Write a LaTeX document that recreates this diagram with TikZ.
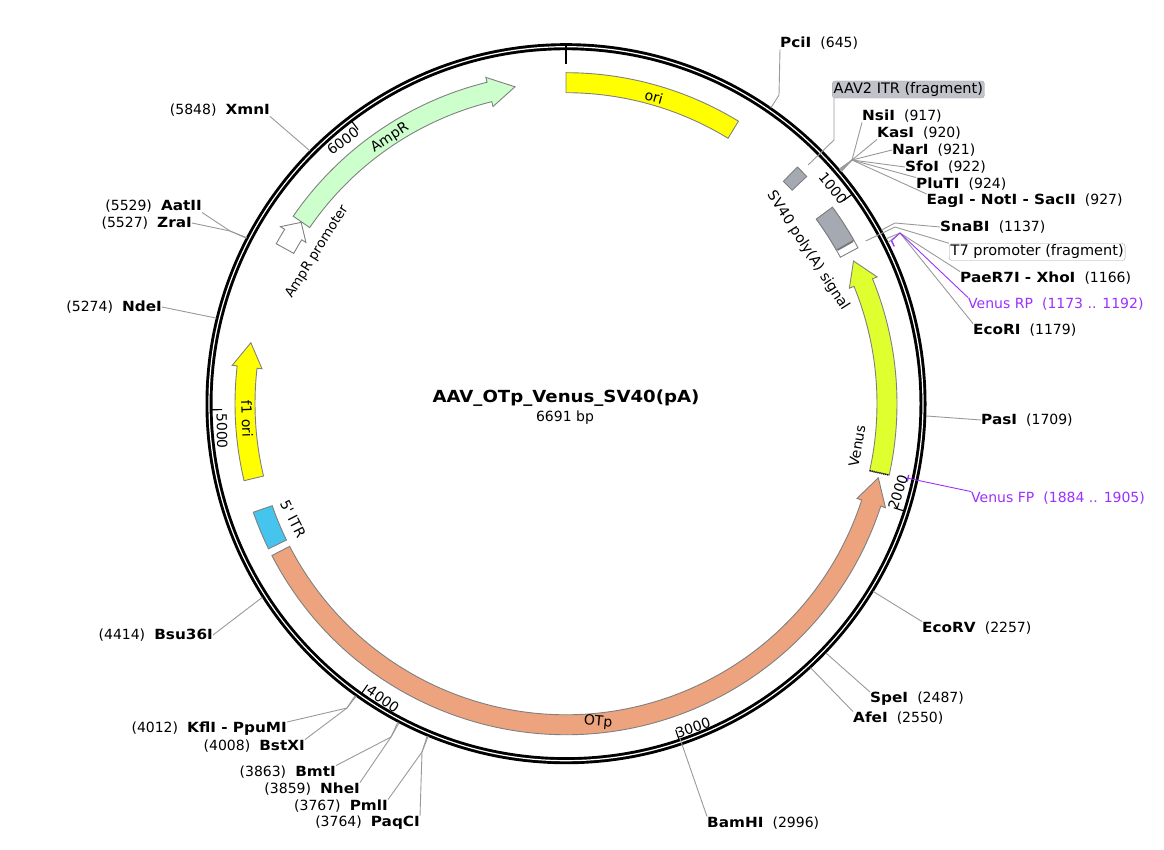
\documentclass[tikz,border=0pt]{standalone}
\usepackage{fontspec}
\setmainfont{DejaVu Sans}[BoldFeatures={FakeStretch=1.09}]
\newcommand{\siteR}[2]{\textbf{#1}\hspace{0.65em}(#2)}
\newcommand{\siteL}[2]{(#2)\hspace{0.65em}\textbf{#1}}
\newcommand{\featarrow}[4]{\draw[feature, #1] (90-#2:331) arc[start angle=90-#2, end angle=90-#3, radius=331] -- (90-#3:336) -- (90-#4:321) -- (90-#3:306) -- (90-#3:311) arc[start angle=90-#3, end angle=90-#2, radius=311] -- cycle;}
\newcommand{\featbox}[3]{\draw[feature, #1] (90-#2:331) arc[start angle=90-#2, end angle=90-#3, radius=331] -- (90-#3:311) arc[start angle=90-#3, end angle=90-#2, radius=311] -- cycle;}
\definecolor{oricolor}{HTML}{FFFF00}
\definecolor{otpcolor}{HTML}{EDA37E}
\definecolor{ampcolor}{HTML}{CCFFCC}
\definecolor{venuscolor}{HTML}{E0FF2E}
\definecolor{itrcolor}{HTML}{45C4EE}
\definecolor{polycolor}{HTML}{A5A9B2}
\definecolor{primercolor}{HTML}{9B30FF}
\begin{document}
\begin{tikzpicture}[
  x=1pt, y=1pt,
  font=\fontsize{14}{16}\selectfont,
  feature/.style={draw=black!50, line width=0.9pt, line join=miter},
  leader/.style={draw=black!40, line width=0.9pt},
  primer/.style={draw=primercolor, line width=0.9pt},
  tickmark/.style={draw=black, line width=1.1pt},
  right site/.style={anchor=west, inner sep=0pt, yshift=-1pt},
  left site/.style={anchor=east, inner sep=0pt, yshift=-1pt},
  primer site/.style={right site, text=primercolor},
  tag/.style={draw=black!35, rounded corners=3pt, inner sep=1.5pt, anchor=west, yshift=-0.5pt, font=\fontsize{14.5}{16}\selectfont},
  partlabel/.style={inner sep=0pt, yshift=-1pt}
]
\useasboundingbox (0,-850) rectangle (1164,0);
\begin{scope}[shift={(566,-403.7)}]
\draw[black, line width=7pt] (0,0) circle[radius=357];
\draw[white, line width=1.2pt] (0,0) circle[radius=357];
\draw[black, line width=2.5pt] (90:360) -- (90:340);
\foreach \k in {1000,2000,3000,4000,5000,6000}
  \draw[tickmark] (90-\k*0.053804:355) -- (90-\k*0.053804:344);
\foreach \nm/\pos in {pci/645, nsi/917, kas/920, nar/921, sfo/922, plu/924, eag/927, sna/1137, pae/1166, eco/1179, pas/1709, ecv/2257, spe/2487, afe/2550, bam/2996, kfl/4012, bst/4008, bmt/3863, nhe/3859, pml/3767, paq/3764, bsu/4414, nde/5274, zra/5527, aat/5529, xmn/5848}
  \coordinate (\nm pt) at (90-\pos*0.053804:360);
\coordinate (bampt) at (90-161.2:353);
\coordinate (t7pt) at (90-61.5:341);
\coordinate (itrpt) at (90-45.4:340);
\coordinate (rppt) at (90-63.4:364);
\coordinate (fppt) at (90-102.3:350);
\featbox{fill=polycolor}{44.35}{46.65}
\featbox{fill=white}{53.6}{61.9}
\featbox{fill=polycolor}{53.6}{60.4}
\draw[polycolor!70!black, line width=1.6pt] (90-60.5:312) -- (90-60.5:330);
\featarrow{fill=oricolor}{256.55}{276.55}{280.95}
\featarrow{fill=ampcolor}{304.5}{346.2}{350.85}
\featarrow{fill=white}{298.9}{301.8}{304.4}
\featarrow{fill=venuscolor}{102.45}{67.83}{63.6}
\featarrow{fill=otpcolor}{242.7}{108.04}{103.35}
\featbox{fill=itrcolor}{244}{250.86}
\featbox{fill=oricolor}{0}{31.4}
\draw[black, line width=1.6pt, dash pattern=on 1pt off 1pt] (90-102.45:311) -- (90-102.45:331);
\draw[primer, line width=1.4pt] (90-101.75:350) arc[start angle=90-101.75, end angle=90-102.85, radius=350];
\draw[primer, line width=1.4pt] (90-63.4:364) arc[start angle=90-63.4, end angle=90-64.4, radius=364];
\end{scope}
\node[partlabel, font=\fontsize{16.65}{19}\selectfont\bfseries] (title) at (566,-397) {AAV\_OTp\_Venus\_SV40(pA)};
\node[partlabel] (size) at (565,-417) {6691 bp};
\node[partlabel, rotate=-15.4] (orilabel) at (654,-96) {ori};
\node[partlabel, rotate=33] (amprlabel) at (390,-137) {AmpR};
\node[partlabel, rotate=58, font=\fontsize{13.4}{16}\selectfont] (promlabel) at (317,-251) {AmpR promoter};
\node[partlabel, rotate=-88] (f1label) at (247,-418) {f1 ori};
\node[partlabel, rotate=-63] (itr5label) at (293,-518) {5\textquotesingle{} ITR};
\node[partlabel, rotate=-5] (otplabel) at (598,-721) {OTp};
\node[partlabel, rotate=80] (venuslabel) at (857,-445) {Venus};
\node[partlabel, rotate=-57, font=\fontsize{14.2}{16}\selectfont] (polylabel) at (808,-250) {SV40 poly(A) signal};
\node[partlabel, rotate=-51] (num1000) at (833,-187) {1000};
\node[partlabel, rotate=72.4] (num2000) at (898,-491) {2000};
\node[partlabel, rotate=18.6] (num3000) at (693,-727) {3000};
\node[partlabel, rotate=-35] (num4000) at (383,-698) {4000};
\node[partlabel, rotate=-89] (num5000) at (222,-430) {5000};
\node[partlabel, rotate=37.2] (num6000) at (343,-140) {6000};
\node[right site] (pci) at (780,-42) {\siteR{PciI}{645}};
\node[right site] (nsi) at (862,-115) {\siteR{NsiI}{917}};
\node[right site] (kas) at (877,-132) {\siteR{KasI}{920}};
\node[right site] (nar) at (892,-149) {\siteR{NarI}{921}};
\node[right site] (sfo) at (905,-166) {\siteR{SfoI}{922}};
\node[right site] (plu) at (916,-183) {\siteR{PluTI}{924}};
\node[right site] (eag) at (926.5,-200) {\siteR{EagI - NotI - SacII}{927}};
\node[right site] (sna) at (940,-226) {\siteR{SnaBI}{1137}};
\node[right site] (pae) at (960,-277) {\siteR{PaeR7I - XhoI}{1166}};
\node[right site] (eco) at (973,-329) {\siteR{EcoRI}{1179}};
\node[right site] (pas) at (981,-419) {\siteR{PasI}{1709}};
\node[right site] (ecv) at (922,-627) {\siteR{EcoRV}{2257}};
\node[right site] (spe) at (870,-698) {\siteR{SpeI}{2487}};
\node[right site] (afe) at (853,-717) {\siteR{AfeI}{2550}};
\node[right site] (bam) at (707,-822) {\siteR{BamHI}{2996}};
\node[primer site] (rp) at (968,-303) {Venus RP\hspace{0.65em}(1173 .. 1192)};
\node[primer site] (fp) at (971,-497) {Venus FP\hspace{0.65em}(1884 .. 1905)};
\node[tag, fill=polycolor!70] (itrbox) at (832,-89) {AAV2 ITR (fragment)};
\node[tag, fill=white] (t7box) at (949,-251.5) {T7 promoter (fragment)};
\node[left site] (xmn) at (270,-109) {\siteL{XmnI}{5848}};
\node[left site] (aat) at (202,-205) {\siteL{AatII}{5529}};
\node[left site] (zra) at (192,-222) {\siteL{ZraI}{5527}};
\node[left site] (nde) at (162,-306) {\siteL{NdeI}{5274}};
\node[left site] (bsu) at (213,-634) {\siteL{Bsu36I}{4414}};
\node[left site] (kfl) at (287,-728) {\siteL{KflI - PpuMI}{4012}};
\node[left site] (bst) at (305,-745) {\siteL{BstXI}{4008}};
\node[left site] (bmt) at (336,-771) {\siteL{BmtI}{3863}};
\node[left site] (nhe) at (360,-788) {\siteL{NheI}{3859}};
\node[left site] (pml) at (388,-805) {\siteL{PmlI}{3767}};
\node[left site] (paq) at (420,-822) {\siteL{PaqCI}{3764}};
\draw[leader] (pcipt) -- (779,-95) -- (pci.south west);
\draw[leader] (itrpt) -- (834,-140) -- ([xshift=2pt]itrbox.south west);
\draw[leader] (nsipt) -- (852,-160) -- (nsi.south west);
\draw[leader] (kaspt) -- (852,-160) -- (kas.south west);
\draw[leader] (narpt) -- (852,-160) -- (nar.west);
\draw[leader] (sfopt) -- (852,-160) -- (sfo.west);
\draw[leader] (plupt) -- (852,-160) -- (plu.north west);
\draw[leader] (eagpt) -- (852,-160) -- (eag.north west);
\draw[leader] (snapt) -- (895,-223) -- (sna.west);
\draw[leader] (t7pt) -- (895,-227) -- (t7box.north west);
\draw[leader] (paept) -- (900,-233) -- (pae.north west);
\draw[leader] (ecopt) -- (900,-233) -- (eco.north west);
\draw[primer] (rppt) -- (900,-233) -- (rp.north west);
\draw[leader] (paspt) -- (pas.west);
\draw[primer] (fppt) -- (fp.north west);
\draw[leader] (ecvpt) -- (ecv.north west);
\draw[leader] (spept) -- (spe.north west);
\draw[leader] (afept) -- (afe.north west);
\draw[leader] (bampt) -- (bam.north west);
\draw[leader] (xmnpt) -- (xmn.south east);
\draw[leader] (aatpt) -- (230,-231) -- (aat.south east);
\draw[leader] (zrapt) -- (230,-231) -- (zra.east);
\draw[leader] (ndept) -- (nde.east);
\draw[leader] (bsupt) -- (bsu.east);
\draw[leader] (kflpt) -- (347,-708) -- (kfl.north east);
\draw[leader] (bstpt) -- (347,-708) -- (bst.north east);
\draw[leader] (bmtpt) -- (391,-737) -- (bmt.north east);
\draw[leader] (nhept) -- (391,-737) -- (nhe.north east);
\draw[leader] (pmlpt) -- (422,-752) -- (pml.north east);
\draw[leader] (paqpt) -- (422,-752) -- (paq.north east);
\end{tikzpicture}
\end{document}
